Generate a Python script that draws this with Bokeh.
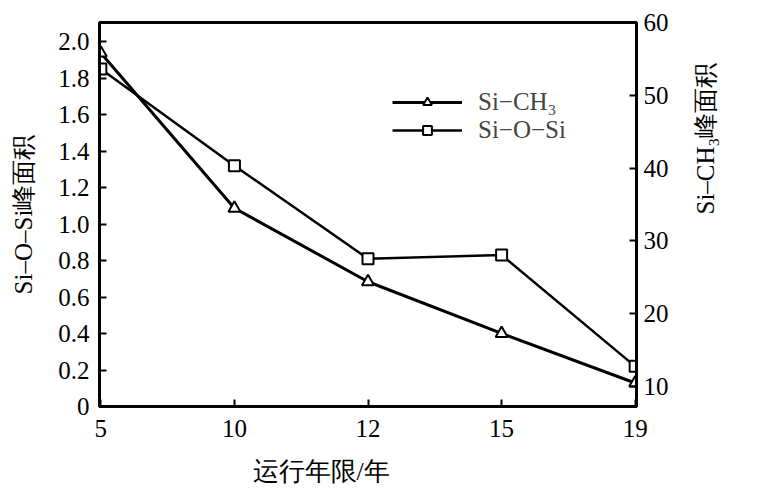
import math
from bokeh.plotting import figure
from bokeh.models import (Range1d, LinearAxis, FixedTicker, Legend, LegendItem,
                          Title, PrintfTickFormatter)
from bokeh.embed import file_html
from bokeh.resources import INLINE

# ---- data ----
years = ["5", "10", "12", "15", "19"]
si_ch3 = [55.8, 34.5, 24.4, 17.3, 10.5]      # right axis (Si-CH3 peak area)
si_o_si = [1.85, 1.32, 0.81, 0.83, 0.22]     # left axis (Si-O-Si peak area)
left_ticks = [0, 0.2, 0.4, 0.6, 0.8, 1.0, 1.2, 1.4, 1.6, 1.8, 2.0]
right_ticks = [10, 20, 30, 40, 50, 60]

xpos = list(range(len(years)))
FONT = "Liberation Serif"

p = figure(frame_width=537, frame_height=384, output_backend="svg",
           toolbar_location=None,
           x_range=Range1d(-0.01, len(years) - 1 + 0.01),
           y_range=Range1d(0, 2.105),
           min_border_left=99, min_border_right=106,
           min_border_top=22, min_border_bottom=88)
p.extra_y_ranges = {"ch3": Range1d(7.27, 60)}
p.add_layout(LinearAxis(y_range_name="ch3"), "right")

p.xgrid.visible = False
p.ygrid.visible = False
p.outline_line_color = "black"
p.outline_line_width = 3
p.background_fill_color = "white"
p.border_fill_color = "white"

for ax in p.axis:
    ax.axis_line_color = "black"
    ax.axis_line_width = 3
    ax.major_tick_in = 7
    ax.major_tick_out = 0
    ax.major_tick_line_width = 2
    ax.minor_tick_line_color = None
    ax.major_label_text_font = FONT
    ax.major_label_text_font_size = "25px"
    ax.major_label_text_color = "black"
    ax.axis_label_text_font = FONT
    ax.axis_label_text_font_size = "25px"
    ax.axis_label_text_font_style = "normal"
    ax.axis_label_text_color = "black"

xa = p.xaxis[0]
xa.ticker = FixedTicker(ticks=xpos)
xa.major_label_overrides = {i: y for i, y in enumerate(years)}
xa.major_label_standoff = 13

ya = p.yaxis[0]
ya.ticker = FixedTicker(ticks=left_ticks)
ya.formatter = PrintfTickFormatter(format="%.1f")
ya.major_label_overrides = {0: "0"}
ya.major_label_standoff = 10
ya.axis_label = "Si–O–Si峰面积"
ya.axis_label_standoff = 18

yr = p.yaxis[1]
yr.ticker = FixedTicker(ticks=right_ticks)
yr.major_label_standoff = 7
yr.axis_label = "Si–CH₃峰面积"
yr.axis_label_standoff = 34
yr.axis_label_orientation = math.pi / 2

# series
l1 = p.line(xpos, si_ch3, y_range_name="ch3", line_color="black", line_width=3)
s1 = p.scatter(xpos, si_ch3, y_range_name="ch3", marker="triangle", size=12,
               line_color="black", line_width=2, fill_color="white")
l2 = p.line(xpos, si_o_si, line_color="black", line_width=2.5)
s2 = p.scatter(xpos, si_o_si, marker="square", size=11,
               line_color="black", line_width=2, fill_color="white")

legend = Legend(items=[LegendItem(label="Si−CH₃", renderers=[l1, s1]),
                       LegendItem(label="Si−O−Si", renderers=[l2, s2])],
                location=(293, 262), padding=0, margin=0, spacing=0,
                glyph_width=70, glyph_height=22, label_height=22,
                label_standoff=16, border_line_color=None,
                background_fill_alpha=0,
                label_text_font=FONT, label_text_font_size="25px")
p.add_layout(legend, "center")

xtitle = Title(text="运行年限/年", align="left", offset=153, standoff=31,
               text_font=FONT, text_font_size="26px",
               text_font_style="normal", text_color="black")
p.add_layout(xtitle, "below")

open("out.html", "w").write(file_html(p, INLINE))
